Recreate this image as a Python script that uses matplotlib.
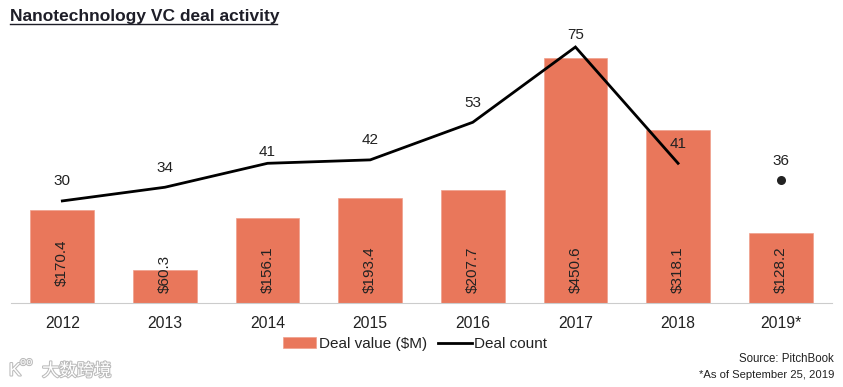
import matplotlib
matplotlib.use("Agg")
import matplotlib.pyplot as plt
import matplotlib.patheffects as pe

plt.rcParams['font.family'] = ['Liberation Sans', 'DejaVu Sans']

years = ['2012', '2013', '2014', '2015', '2016', '2017', '2018', '2019*']
deal_value = [170.4, 60.3, 156.1, 193.4, 207.7, 450.6, 318.1, 128.2]
deal_count = [30, 34, 41, 42, 53, 75, 41, 36]

# gap between a count and its label, in points
label_offsets = [14, 14, 8, 14, 14, 9, 14, 14]
# gap between the baseline and the value inside the bar, in points
value_offsets = [12, 7, 7, 7, 7, 7, 7, 7]

W, H = 843, 387
fig = plt.figure(figsize=(W / 100, H / 100), dpi=100)
ax = fig.add_axes([11 / W, 1 - 302.5 / H, 821 / W, 282.5 / H])
ax2 = ax.twinx()

x = list(range(len(years)))
ax.bar(x, deal_value, width=0.62, color='#E9775B', edgecolor='#F0A08C', linewidth=0.5,
       label='Deal value ($M)')
ax.set_xlim(-0.5, 7.5)
ax.set_ylim(0, 520.6)
ax2.set_ylim(0.3, 82.9)

# line stops at 2018, 2019 is partial so it only gets a dot
line, = ax2.plot(x[:-1], deal_count[:-1], color='black', lw=2.0, label='Deal count',
                 solid_joinstyle='miter')
ax2.plot(x[-1], deal_count[-1], 'o', color='#222222', ms=6.5, mew=0)

for i, v in enumerate(deal_value):
    ax.annotate(f'${v}', (i, 0), xytext=(0, value_offsets[i]), textcoords='offset points',
                rotation=90, ha='center', va='bottom', fontsize=11, color='#222222')
for i, c in enumerate(deal_count):
    ax2.annotate(str(c), (i, c), xytext=(0, label_offsets[i]), textcoords='offset points',
                 ha='center', va='center', fontsize=11, color='#222222')

for s in ['top', 'left', 'right']:
    ax.spines[s].set_visible(False)
    ax2.spines[s].set_visible(False)
ax.spines['bottom'].set_color('#CCCCCC')
ax2.spines['bottom'].set_visible(False)
ax.set_yticks([])
ax2.set_yticks([])
ax.set_xticks(x)
ax.set_xticklabels(years, fontsize=11.3, color='#222222')
ax.tick_params(axis='x', length=0, pad=9.5)

bars_handle = ax.containers[0]
fig.legend([bars_handle, line], ['Deal value ($M)', 'Deal count'], ncol=2, frameon=False,
           loc='center', bbox_to_anchor=(415 / W, 1 - 344 / H), fontsize=11,
           handlelength=2.2, handleheight=0.7, handletextpad=0.15, columnspacing=0.75,
           labelcolor='#222222')

title = fig.text(10 / W, 1 - 16 / H, 'Nanotechnology VC deal activity', fontsize=12.5,
                 fontweight='bold', color='#1E1E28', va='center', ha='left')
fig.add_artist(plt.Line2D([10 / W, 277 / W], [1 - 23.5 / H, 1 - 23.5 / H], color='#1E1E28', lw=1))

fig.text(834 / W, 1 - 359 / H, 'Source: PitchBook', fontsize=8.3, color='#222222', ha='right', va='center')
fig.text(834 / W, 1 - 375 / H, '*As of September 25, 2019', fontsize=8.1, color='#222222', ha='right', va='center')

# watermark
stroke = [pe.withStroke(linewidth=1.5, foreground='#BBBBBB')]
fig.text(42 / W, 1 - 371 / H, '大数跨境', fontsize=12.5, color='white', ha='left', va='center',
         family=['Noto Sans CJK SC', 'DejaVu Sans'], path_effects=stroke)
fig.text(9 / W, 1 - 371 / H, 'K', fontsize=13, color='white', ha='left', va='center', path_effects=stroke)
fig.text(20 / W, 1 - 362 / H, 'oo', fontsize=8, color='white', ha='left', va='center', path_effects=stroke)

fig.savefig('out.png', dpi=100)
